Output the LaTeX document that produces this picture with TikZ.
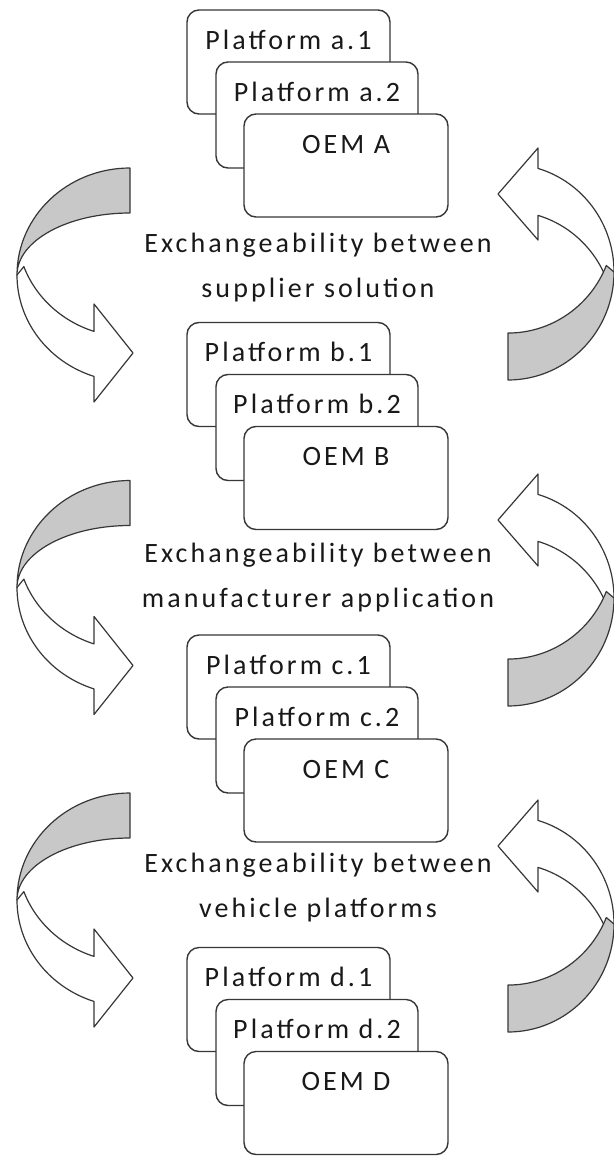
\documentclass[tikz,border=0pt]{standalone}
\usepackage{fontspec}
\newfontfamily\diagfont{Carlito}[LetterSpace=11]
\definecolor{bandgray}{RGB}{200,200,200}
\definecolor{inkline}{RGB}{55,55,55}
\definecolor{inktext}{RGB}{25,25,25}

% curved arrow on the left: tail at the top right, head at the bottom pointing right
\newcommand\leftturn[2]{%
  \begin{scope}[shift={(#1,#2)}]
    \filldraw[band, fill=white]
      (-113,-107) arc[start angle=180, end angle=251.4, x radius=113pt, y radius=107pt]
      -- (-36,-234) -- (3,-185) -- (-36,-136) -- (-36,-163.4)
      arc[start angle=251.4, end angle=200, x radius=113pt, y radius=107pt] -- cycle;
    \filldraw[band, fill=bandgray]
      (0,0) arc[start angle=90, end angle=180, x radius=113pt, y radius=107pt]
      arc[start angle=180, end angle=90, x radius=113pt, y radius=62pt] -- cycle;
  \end{scope}}

% curved arrow on the right: tail at the bottom left, head at the top pointing left
\newcommand\rightturn[2]{%
  \begin{scope}[shift={(#1,#2)}]
    \filldraw[band, fill=white]
      (106,108) arc[start angle=0, end angle=73.56, x radius=106pt, y radius=108pt]
      -- (30,232) -- (-10,186) -- (30,140) -- (30,164.6)
      arc[start angle=73.56, end angle=20, x radius=106pt, y radius=108pt] -- cycle;
    \filldraw[band, fill=bandgray]
      (0,0) arc[start angle=-90, end angle=0, x radius=106pt, y radius=108pt]
      -- (98.3,114.5)
      arc[start angle=-22, end angle=-90, x radius=106pt, y radius=108pt] -- cycle;
  \end{scope}}

% stack of three overlapping cards: #1 name prefix, #2 top edge, #3 platform letter, #4 OEM letter
\newcommand\oemgroup[4]{%
  \node[pbox, minimum width=203pt, minimum height=104pt] (#1one) at (187,-#2) {};
  \node[boxtext] (#1onetext) at ([yshift=-39pt]#1one.north) {Platform #3.1};
  \node[pbox, minimum width=202pt, minimum height=106pt] (#1two) at (216,-#2-52) {};
  \node[boxtext] (#1twotext) at ([yshift=-39pt]#1two.north) {Platform #3.2};
  \node[pbox, minimum width=204pt, minimum height=103pt] (#1oem) at (244,-#2-104) {};
  \node[boxtext] (#1oemtext) at ([yshift=-39pt]#1oem.north) {OEM #4};
}

\begin{document}
\begin{tikzpicture}[x=1pt,y=1pt,
  pbox/.style={draw=inkline, line width=1.4pt, fill=white, rounded corners=12pt,
    anchor=north west, inner sep=0pt, outer sep=0pt},
  boxtext/.style={anchor=base, inner sep=0pt,
    font=\diagfont\fontsize{28}{32}\selectfont, text=inktext},
  captext/.style={anchor=base, inner sep=0pt,
    font=\diagfont\fontsize{28}{32}\selectfont, text=inktext},
  band/.style={draw=inkline, line width=1.2pt, line join=round},
]
\useasboundingbox (0,0) rectangle (613,-1156);
\fill[white] (0,0) rectangle (613,-1156);

% turning arrows
\leftturn{130}{-168}
\leftturn{130}{-480.5}
\leftturn{130}{-793}
\rightturn{508}{-380}
\rightturn{508}{-706}
\rightturn{508}{-1032}

% card stacks
\oemgroup{a}{10}{a}{A}
\oemgroup{b}{322.5}{b}{B}
\oemgroup{c}{635}{c}{C}
\oemgroup{d}{947.5}{d}{D}

% captions between the stacks
\node[captext] (capAone) at (318,-252) {Exchangeability between};
\node[captext] (capAtwo) at (318,-297) {supplier solution};
\node[captext] (capBone) at (318,-562) {Exchangeability between};
\node[captext] (capBtwo) at (318,-607) {manufacturer application};
\node[captext] (capCone) at (318,-872) {Exchangeability between};
\node[captext] (capCtwo) at (318,-917) {vehicle platforms};
\end{tikzpicture}
\end{document}
